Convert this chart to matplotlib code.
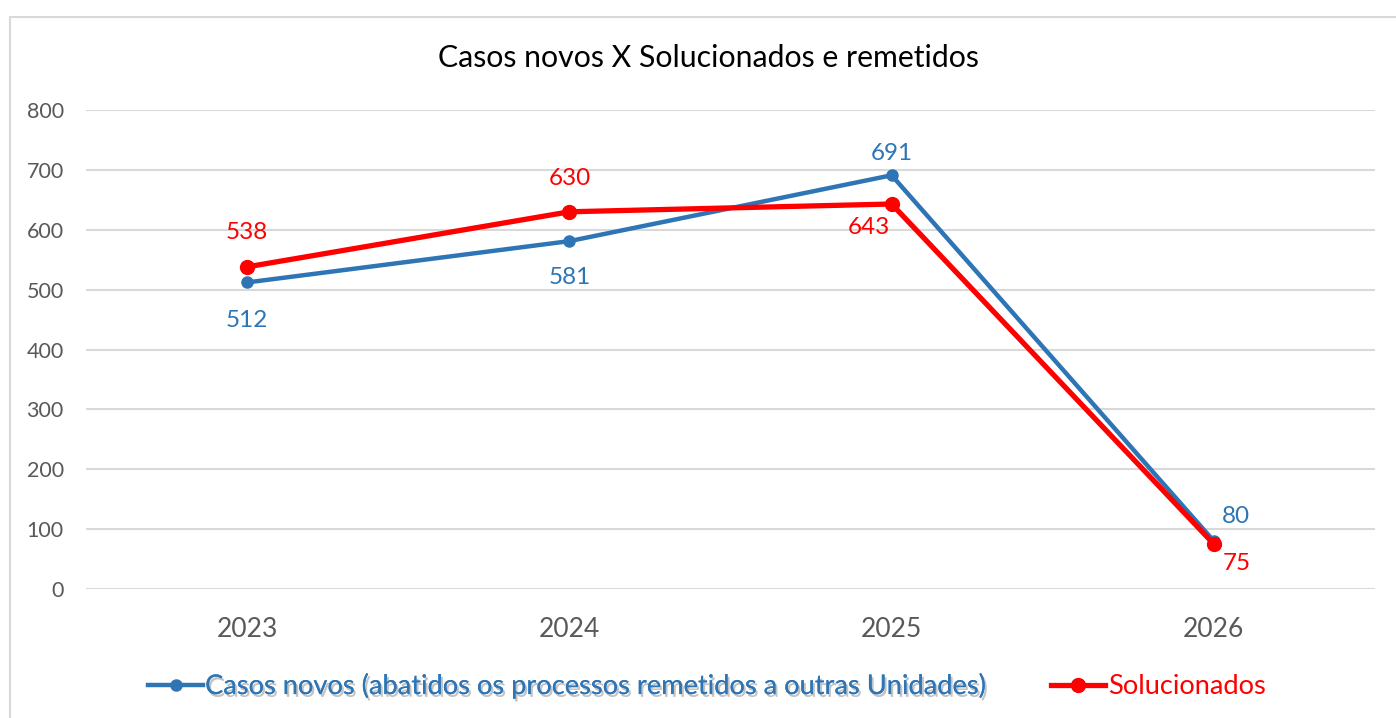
import matplotlib.pyplot as plt
import matplotlib.patheffects as pe
from matplotlib.patches import Rectangle

plt.rcParams['font.family'] = ['Lato', 'DejaVu Sans']

anos = ['2023', '2024', '2025', '2026']
casos_novos = [512, 581, 691, 80]
solucionados = [538, 630, 643, 75]

azul = '#2E75B6'
vermelho = '#FF0000'
cinza = '#595959'

# deslocamentos dos rotulos (pixels)
off_azul = [(0, -38), (0, -36), (0, 22), (22, 25)]
off_verm = [(0, 34), (0, 33), (-23, -23), (23, -19)]

fig = plt.figure(figsize=(13.96, 7.18), dpi=100)
fig.patches.append(Rectangle((9.5 / 1396, -0.1), 1.2, (1 - 16.5 / 718) + 0.1,
                             transform=fig.transFigure, fill=False,
                             edgecolor='#d9d9d9', linewidth=1.5))
ax = fig.add_axes([86 / 1396, 1 - 589 / 718, (1375 - 86) / 1396, (589 - 110) / 718])

x = list(range(len(anos)))
ax.plot(x, casos_novos, color=azul, lw=3.2, marker='o', ms=8,
        label='Casos novos (abatidos os processos remetidos a outras Unidades)', zorder=3)
ax.plot(x, solucionados, color=vermelho, lw=3.8, marker='o', ms=10,
        label='Solucionados', zorder=4)

for i, v in enumerate(casos_novos):
    ax.annotate(str(v), (i, v), xytext=off_azul[i], textcoords='offset pixels',
                ha='center', va='center', color=azul, fontsize=17.5)
for i, v in enumerate(solucionados):
    ax.annotate(str(v), (i, v), xytext=off_verm[i], textcoords='offset pixels',
                ha='center', va='center', color=vermelho, fontsize=17.5)

ax.set_xlim(-0.5, 3.5)
ax.set_ylim(0, 800)
ax.set_xticks(x)
ax.set_xticklabels(anos)
ax.set_yticks(range(0, 801, 100))
ax.tick_params(axis='x', length=0, labelsize=19, labelcolor=cinza, pad=20)
ax.tick_params(axis='y', length=0, labelsize=15.5, labelcolor=cinza, pad=16)
ax.grid(axis='y', color='#d9d9d9', lw=1.5)
ax.set_axisbelow(True)
for s in ax.spines.values():
    s.set_visible(False)

fig.text(708 / 1396, 1 - 58 / 718, 'Casos novos X Solucionados e remetidos',
         ha='center', va='center', fontsize=21.8, color='black')

leg = ax.legend(loc='center', bbox_to_anchor=(707 / 1396, 1 - 686 / 718),
                bbox_transform=fig.transFigure, ncol=2, frameon=False,
                fontsize=19.6, handlelength=2.0, handletextpad=0.08,
                columnspacing=2.4)
for txt, cor in zip(leg.get_texts(), [azul, vermelho]):
    txt.set_color(cor)
leg.get_texts()[0].set_path_effects([
    pe.withSimplePatchShadow(offset=(1.5, -2), shadow_rgbFace='#888888', alpha=0.5),
    pe.Normal()])

fig.savefig('out.png', dpi=100)
